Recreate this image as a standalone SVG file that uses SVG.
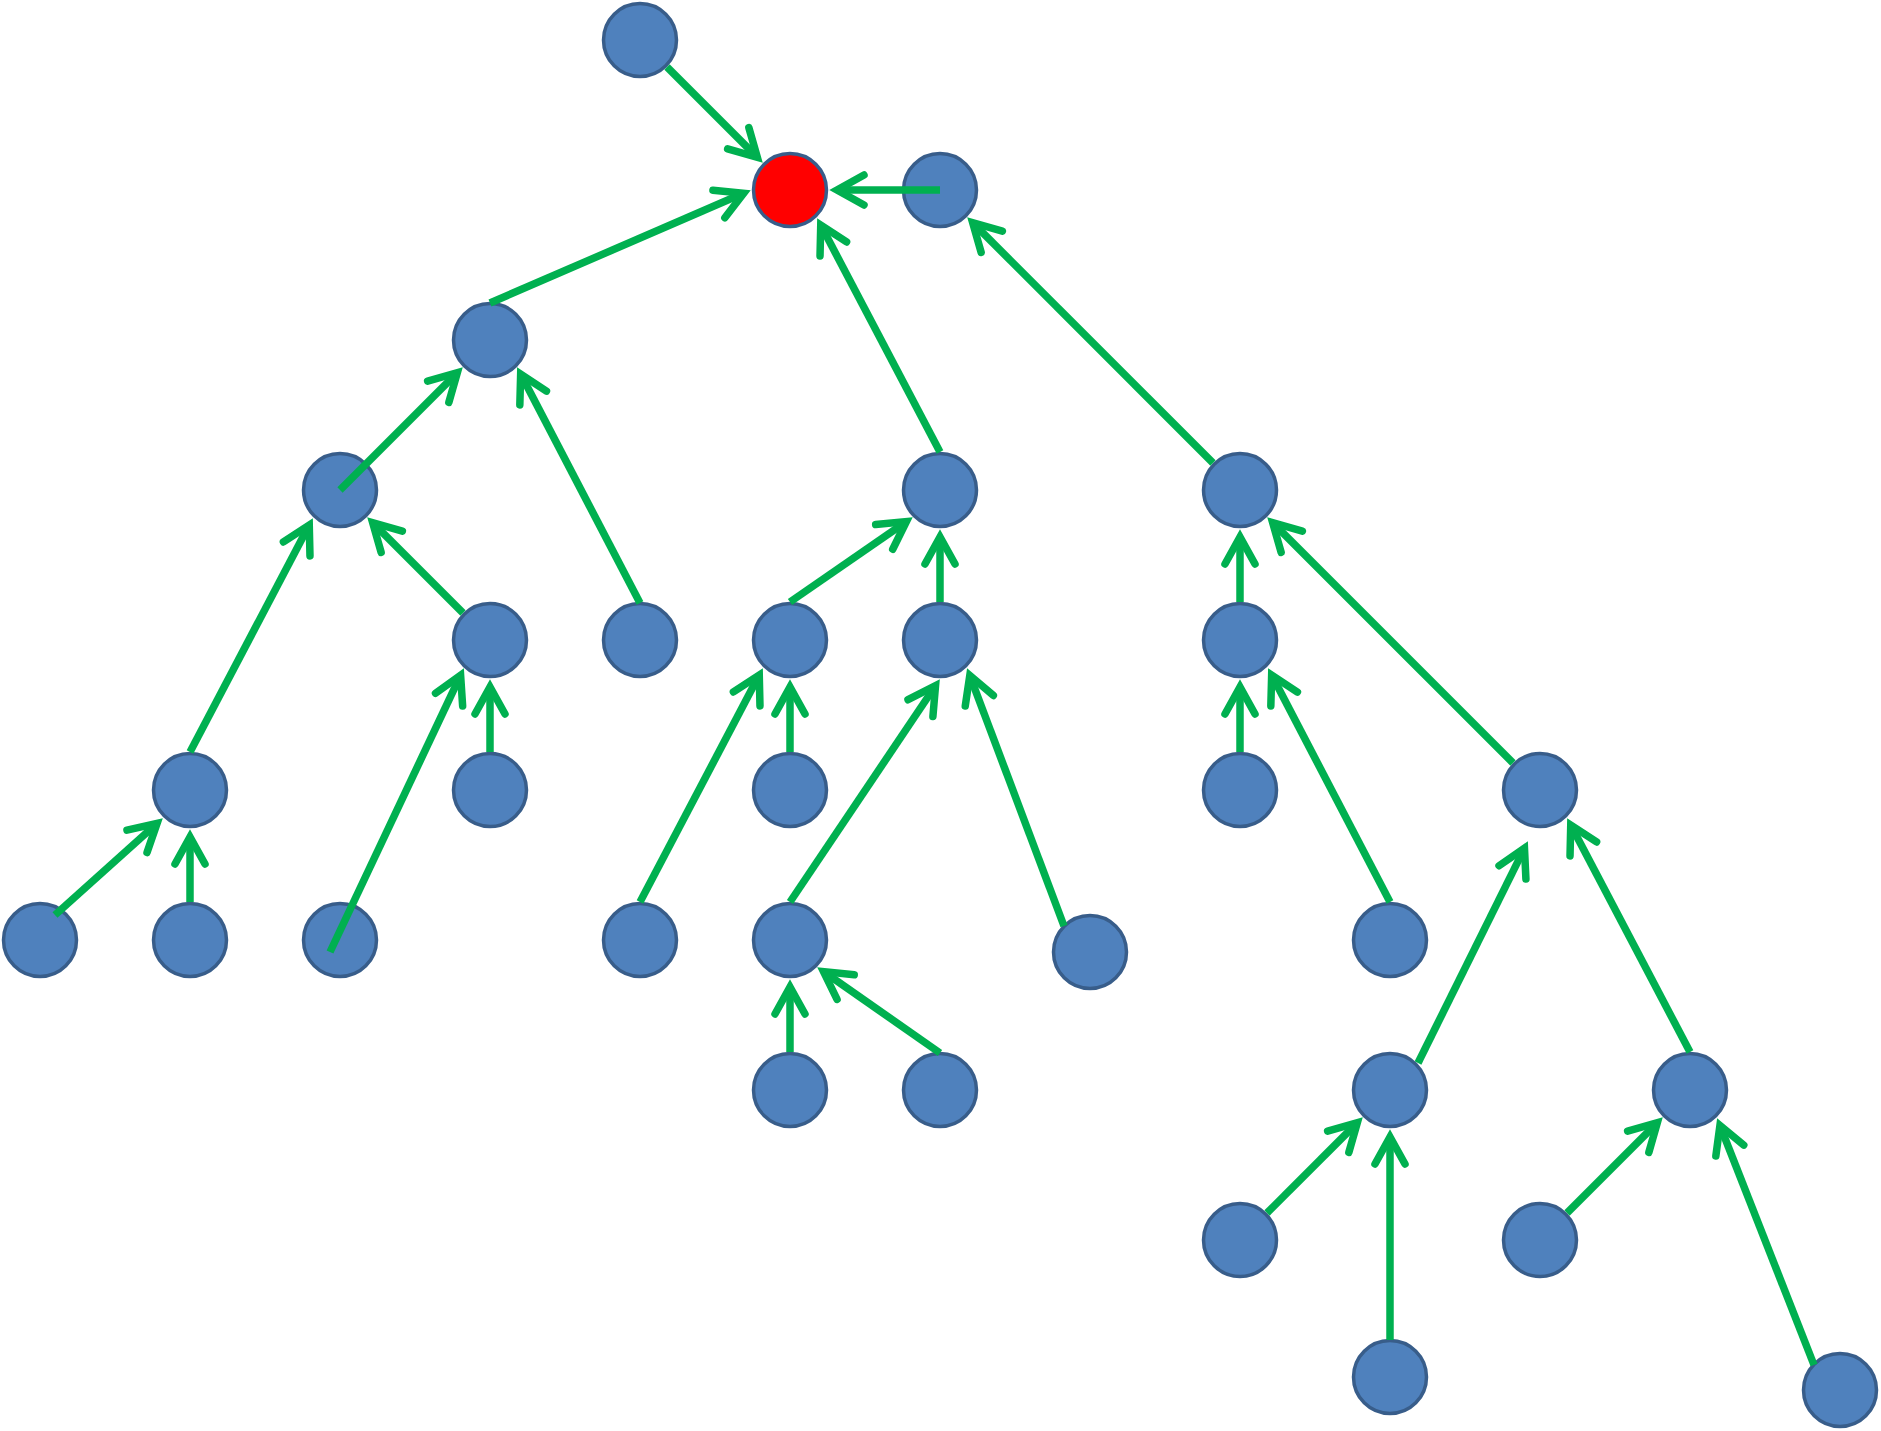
<svg xmlns="http://www.w3.org/2000/svg" width="1881" height="1431" viewBox="0 0 1881 1431">
<style>
.n{fill:#4F81BD;stroke:#385D8A;stroke-width:3.5}
.root{fill:#FF0000;stroke:#385D8A;stroke-width:3.5}
.e{stroke:#00B050;stroke-width:7.5;fill:none;marker-end:url(#arr)}
</style>
<defs>
<marker id="arr" viewBox="-40 -30 60 60" markerWidth="60" markerHeight="60" refX="0" refY="0" orient="auto" markerUnits="userSpaceOnUse" overflow="visible">
<path d="M -23 -15 L 4 0 L -23 15" fill="none" stroke="#00B050" stroke-width="7.5" stroke-linecap="round" stroke-linejoin="miter"/>
</marker>
</defs>
<rect width="1881" height="1431" fill="#FFFFFF"/>
<g id="nodes">
<g id="n0"><circle class="n" cx="640" cy="40" r="36.5"/></g>
<g id="root"><circle class="root" cx="790" cy="190" r="36.5"/></g>
<g id="n1"><circle class="n" cx="940" cy="190" r="36.5"/></g>
<g id="a"><circle class="n" cx="490" cy="340" r="36.5"/></g>
<g id="b"><circle class="n" cx="340" cy="490" r="36.5"/></g>
<g id="c"><circle class="n" cx="940" cy="490" r="36.5"/></g>
<g id="d"><circle class="n" cx="1240" cy="490" r="36.5"/></g>
<g id="e"><circle class="n" cx="490" cy="640" r="36.5"/></g>
<g id="f"><circle class="n" cx="640" cy="640" r="36.5"/></g>
<g id="g"><circle class="n" cx="790" cy="640" r="36.5"/></g>
<g id="h"><circle class="n" cx="940" cy="640" r="36.5"/></g>
<g id="i"><circle class="n" cx="1240" cy="640" r="36.5"/></g>
<g id="j"><circle class="n" cx="190" cy="790" r="36.5"/></g>
<g id="k"><circle class="n" cx="490" cy="790" r="36.5"/></g>
<g id="l"><circle class="n" cx="790" cy="790" r="36.5"/></g>
<g id="m"><circle class="n" cx="1240" cy="790" r="36.5"/></g>
<g id="nn"><circle class="n" cx="1540" cy="790" r="36.5"/></g>
<g id="o"><circle class="n" cx="40" cy="940" r="36.5"/></g>
<g id="p"><circle class="n" cx="190" cy="940" r="36.5"/></g>
<g id="q"><circle class="n" cx="340" cy="940" r="36.5"/></g>
<g id="r"><circle class="n" cx="640" cy="940" r="36.5"/></g>
<g id="s"><circle class="n" cx="790" cy="940" r="36.5"/></g>
<g id="t"><circle class="n" cx="1090" cy="952" r="36.5"/></g>
<g id="u"><circle class="n" cx="1390" cy="940" r="36.5"/></g>
<g id="v"><circle class="n" cx="790" cy="1090" r="36.5"/></g>
<g id="w"><circle class="n" cx="940" cy="1090" r="36.5"/></g>
<g id="x"><circle class="n" cx="1390" cy="1090" r="36.5"/></g>
<g id="y"><circle class="n" cx="1690" cy="1090" r="36.5"/></g>
<g id="z"><circle class="n" cx="1240" cy="1240" r="36.5"/></g>
<g id="aa"><circle class="n" cx="1540" cy="1240" r="36.5"/></g>
<g id="ab"><circle class="n" cx="1390" cy="1377" r="36.5"/></g>
<g id="ac"><circle class="n" cx="1840" cy="1390" r="36.5"/></g>
</g>
<g id="connectors">
<line class="e" x1="667" y1="67" x2="754.5" y2="154.5"/>
<line class="e" x1="940" y1="190" x2="841" y2="190"/>
<line class="e" x1="490" y1="303" x2="740" y2="194.8"/>
<line class="e" x1="940" y1="452" x2="822.6" y2="228.6"/>
<line class="e" x1="1213" y1="463" x2="975.5" y2="225.5"/>
<line class="e" x1="340" y1="490" x2="454.5" y2="375.5"/>
<line class="e" x1="640" y1="603" x2="522.5" y2="377.6"/>
<line class="e" x1="190" y1="752" x2="307.4" y2="528.6"/>
<line class="e" x1="463" y1="613" x2="375.5" y2="525.5"/>
<line class="e" x1="55" y1="915" x2="154.1" y2="826"/>
<line class="e" x1="190" y1="902" x2="190" y2="841"/>
<line class="e" x1="330" y1="952" x2="458.9" y2="678.8"/>
<line class="e" x1="490" y1="752" x2="490" y2="691"/>
<line class="e" x1="640" y1="902" x2="757.4" y2="678.6"/>
<line class="e" x1="790" y1="752" x2="790" y2="691"/>
<line class="e" x1="790" y1="602" x2="903.1" y2="523.8"/>
<line class="e" x1="940" y1="602" x2="940" y2="541"/>
<line class="e" x1="790" y1="902" x2="933.3" y2="689"/>
<line class="e" x1="1064" y1="926" x2="971.2" y2="679.2"/>
<line class="e" x1="790" y1="1052" x2="790" y2="991"/>
<line class="e" x1="940" y1="1053" x2="826.8" y2="973.9"/>
<line class="e" x1="1240" y1="602" x2="1240" y2="541"/>
<line class="e" x1="1513" y1="763" x2="1275.5" y2="525.5"/>
<line class="e" x1="1240" y1="752" x2="1240" y2="691"/>
<line class="e" x1="1390" y1="902" x2="1273.5" y2="678.6"/>
<line class="e" x1="1418" y1="1063" x2="1522.7" y2="851.8"/>
<line class="e" x1="1690" y1="1052" x2="1572.6" y2="828.6"/>
<line class="e" x1="1267" y1="1213" x2="1354.5" y2="1125.5"/>
<line class="e" x1="1390" y1="1340" x2="1390" y2="1141"/>
<line class="e" x1="1567" y1="1213" x2="1654.5" y2="1125.5"/>
<line class="e" x1="1814" y1="1365" x2="1721.4" y2="1129.2"/>
</g>
</svg>
